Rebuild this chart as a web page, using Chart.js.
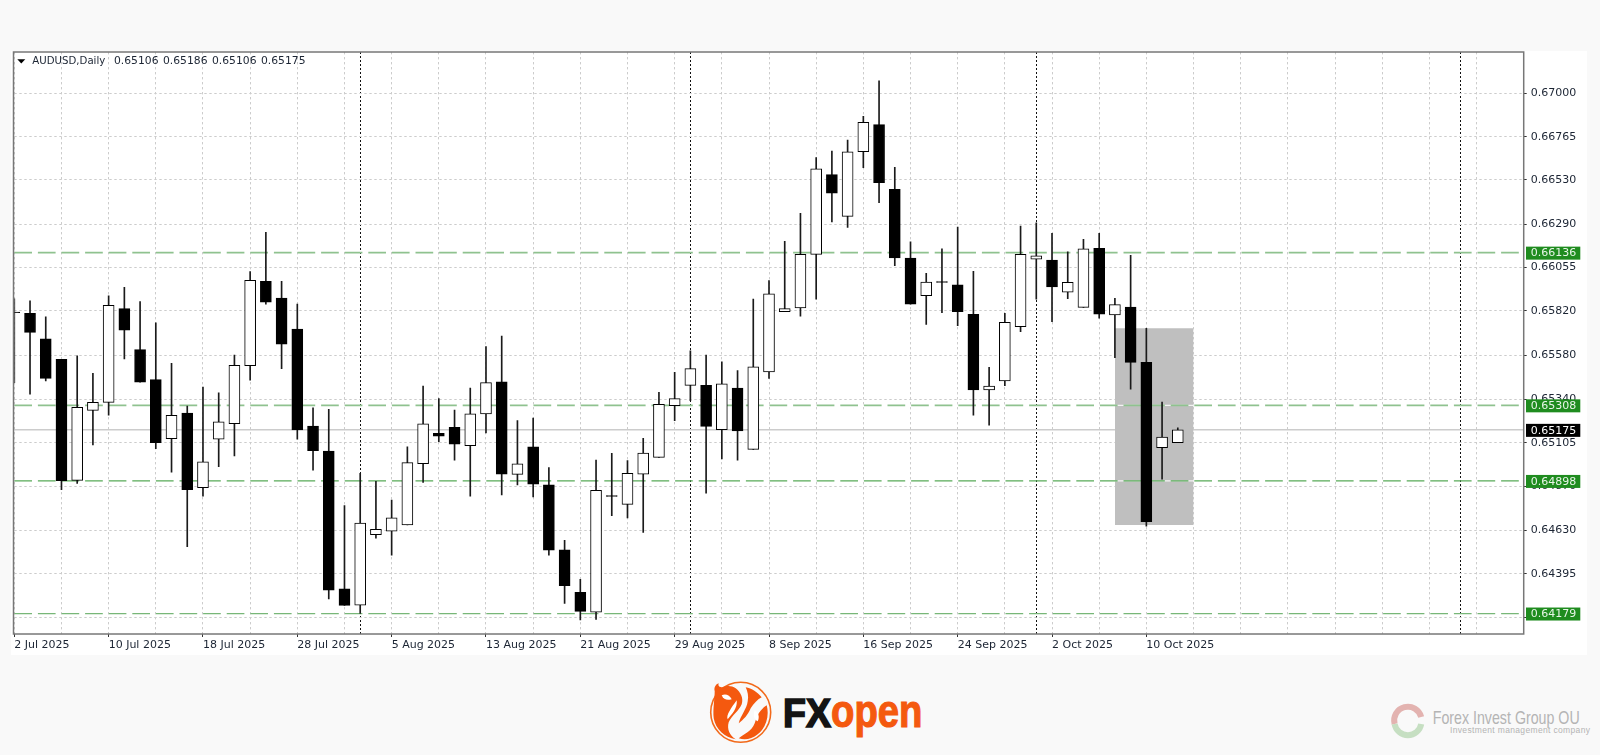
<!DOCTYPE html>
<html>
<head>
<meta charset="utf-8">
<title>AUDUSD Daily</title>
<style>
  html, body { margin: 0; padding: 0; background: #f9f9f9; }
  #backdrop, #chart { position: absolute; left: 0; top: 0; }
</style>
<script src="https://cdn.jsdelivr.net/npm/chart.js@4"></script>
</head>
<body>
<svg id="backdrop" width="1600" height="755" xmlns="http://www.w3.org/2000/svg">
  <rect x="11" y="51" width="1576" height="604" fill="#ffffff"/>
  <!-- FXopen logo -->
  <circle cx="740.7" cy="712.3" r="30" fill="none" stroke="#f26a1b" stroke-width="1.6"/>
  <g transform="translate(707.7,679.3)" fill="#f4590f">
    <path d="M7 12 C6 8 8 5 11 4 C10 7 12 8 15 8 C19 6 24 6 28 9 C33 13 36 19 34 25 C31 32 24 36 21 43 C19 50 22 56 28 60 C17 58 8 50 6 39 C5 30 7 20 7 12 Z"/>
    <path d="M59 26 C62 37 58 49 50 55 C44 60 37 61 31 59 C36 55 44 52 47 44 C49 37 52 30 59 26 Z"/>
    <path d="M38 8 C44 9 50 13 54 18 C50 20 46 24 43 29 C40 36 36 40 31 44 C33 36 39 30 40 22 C41 17 40 12 38 8 Z"/>
    <g fill="#ffffff">
      <path d="M14 16 C18 14 22 16 24 20 C20 21 16 21 14 16 Z"/>
      <path d="M29 21 C30 29 24 35 20 40 C18 36 24 28 29 21 Z"/>
      <path d="M47 31 C51 33 52 38 50 42 C47 41 45 36 47 31 Z"/>
    </g>
  </g>
  <text x="783" y="727" font-family="Liberation Sans" font-weight="bold" font-size="40" fill="#141414" stroke="#141414" stroke-width="1.6" textLength="48" lengthAdjust="spacingAndGlyphs">FX</text>
  <text x="831" y="727" font-family="Liberation Sans" font-weight="bold" font-size="47" fill="#f4590f" stroke="#f4590f" stroke-width="1.2" textLength="91.5" lengthAdjust="spacingAndGlyphs">open</text>
  <!-- Forex Invest Group logo -->
  <path d="M1394.6 724 A13.5 13.5 0 0 1 1421.2 717" fill="none" stroke="#e3b3b0" stroke-width="6"/>
  <path d="M1421.2 724 A13.5 13.5 0 0 1 1394.6 724" fill="none" stroke="#c6dfc2" stroke-width="6"/>
  <text x="1432.7" y="724" font-family="Liberation Sans" font-size="19" fill="#b4b4b4" textLength="147" lengthAdjust="spacingAndGlyphs">Forex Invest Group OU</text>
  <text x="1450" y="733" font-family="Liberation Sans" font-size="8.5" fill="#b4b4b4" textLength="140" lengthAdjust="spacing">Investment management company</text>
</svg>
<canvas id="chart" width="1600" height="755"></canvas>

<script>
// bar dates, one per candle
const dates = [
  '2 Jul 2025','3 Jul 2025','4 Jul 2025','7 Jul 2025','8 Jul 2025','9 Jul 2025','10 Jul 2025','11 Jul 2025','14 Jul 2025','15 Jul 2025',
  '16 Jul 2025','17 Jul 2025','18 Jul 2025','21 Jul 2025','22 Jul 2025','23 Jul 2025','24 Jul 2025','25 Jul 2025','28 Jul 2025','29 Jul 2025',
  '30 Jul 2025','31 Jul 2025','1 Aug 2025','4 Aug 2025','5 Aug 2025','6 Aug 2025','7 Aug 2025','8 Aug 2025','11 Aug 2025','12 Aug 2025',
  '13 Aug 2025','14 Aug 2025','15 Aug 2025','18 Aug 2025','19 Aug 2025','20 Aug 2025','21 Aug 2025','22 Aug 2025','25 Aug 2025','26 Aug 2025',
  '27 Aug 2025','28 Aug 2025','29 Aug 2025','1 Sep 2025','2 Sep 2025','3 Sep 2025','4 Sep 2025','5 Sep 2025','8 Sep 2025','9 Sep 2025',
  '10 Sep 2025','11 Sep 2025','12 Sep 2025','15 Sep 2025','16 Sep 2025','17 Sep 2025','18 Sep 2025','19 Sep 2025','22 Sep 2025','23 Sep 2025',
  '24 Sep 2025','25 Sep 2025','26 Sep 2025','29 Sep 2025','30 Sep 2025','1 Oct 2025','2 Oct 2025','3 Oct 2025','6 Oct 2025','7 Oct 2025',
  '8 Oct 2025','9 Oct 2025','10 Oct 2025','13 Oct 2025','14 Oct 2025'
];

const opens = [
  0.65814,0.65807,0.65668,0.65557,0.64901,0.65281,0.65324,0.65832,0.65610,0.65447,
  0.65127,0.65266,0.64861,0.65124,0.65208,0.65523,0.65980,0.65890,0.65722,0.65196,
  0.65060,0.64313,0.64225,0.64606,0.64626,0.64659,0.64991,0.65156,0.65189,0.65089,
  0.65262,0.65436,0.64934,0.65083,0.64877,0.64525,0.64294,0.64187,0.64818,0.64771,
  0.64935,0.65026,0.65306,0.65416,0.65416,0.65176,0.65402,0.65069,0.65489,0.65816,
  0.65836,0.66127,0.66559,0.66333,0.66683,0.66830,0.66479,0.66107,0.65902,0.65979,
  0.65962,0.65802,0.65391,0.65440,0.65734,0.66101,0.66096,0.65922,0.65839,0.66159,
  0.65798,0.65841,0.65541,0.65078,0.65106
];
const highs = [
  0.65886,0.65875,0.65788,0.65557,0.65577,0.65482,0.65902,0.65948,0.65870,0.65756,
  0.65536,0.65304,0.65407,0.65376,0.65581,0.66033,0.66246,0.65980,0.65857,0.65295,
  0.65286,0.64764,0.64939,0.64896,0.64794,0.65083,0.65413,0.65344,0.65282,0.65402,
  0.65626,0.65684,0.65225,0.65239,0.64970,0.64576,0.64364,0.65011,0.65048,0.65008,
  0.65129,0.65378,0.65487,0.65604,0.65581,0.65544,0.65496,0.65884,0.65984,0.66197,
  0.66349,0.66651,0.66687,0.66747,0.66875,0.67067,0.66599,0.66194,0.66024,0.66156,
  0.66275,0.66035,0.65514,0.65807,0.66280,0.66298,0.66241,0.66141,0.66208,0.66241,
  0.65888,0.66122,0.65726,0.65326,0.65186
];
const lows = [
  0.65431,0.65368,0.65441,0.64850,0.64885,0.65093,0.65254,0.65559,0.65434,0.65073,
  0.64946,0.64541,0.64816,0.64975,0.65033,0.65444,0.65856,0.65507,0.65125,0.64957,
  0.64258,0.64223,0.64180,0.64588,0.64495,0.64659,0.64890,0.65111,0.65011,0.64816,
  0.65159,0.64822,0.64876,0.64812,0.64495,0.64234,0.64144,0.64147,0.64709,0.64697,
  0.64619,0.65026,0.65225,0.65333,0.64831,0.65017,0.65011,0.65069,0.65454,0.65816,
  0.65792,0.65883,0.66302,0.66273,0.66597,0.66407,0.66065,0.65857,0.65747,0.65810,
  0.65740,0.65255,0.65201,0.65414,0.65707,0.65884,0.65761,0.65886,0.65839,0.65780,
  0.65566,0.65396,0.64653,0.64908,0.65106
];
const closes = [
  0.65810,0.65704,0.65454,0.64899,0.65297,0.65324,0.65850,0.65716,0.65434,0.65105,
  0.65254,0.64850,0.65002,0.65219,0.65525,0.65986,0.65868,0.65640,0.65174,0.65062,
  0.64306,0.64223,0.64670,0.64636,0.64698,0.64997,0.65208,0.65141,0.65098,0.65262,
  0.65431,0.64935,0.64991,0.64881,0.64523,0.64330,0.64191,0.64847,0.64814,0.64939,
  0.65049,0.65313,0.65344,0.65507,0.65194,0.65425,0.65169,0.65517,0.65913,0.65832,
  0.66127,0.66591,0.66458,0.66683,0.66843,0.66515,0.66108,0.65857,0.65977,0.65975,
  0.65816,0.65391,0.65413,0.65758,0.66127,0.66119,0.65950,0.65975,0.66157,0.65802,
  0.65854,0.65541,0.64677,0.65136,0.65175
];

const priceTicks = [0.67, 0.66765, 0.6653, 0.6629, 0.66055, 0.6582, 0.6558, 0.6534, 0.65105, 0.6487, 0.6463, 0.64395, 0.6416];
const levels = [0.66136, 0.65308, 0.64898, 0.64179];
const lastPrice = 0.65175;
const zoneTop = 0.65726;
const zoneBottom = 0.64659;

const symbolTitle = 'AUDUSD,Daily';
const headerPrices = ['0.65106', '0.65186', '0.65106', '0.65175'];

// empty slots to the right of the last candle, the platform keeps drawing its grid there
const futureSlots = 22;
const monthStarts = [22, 43, 65, 92];
const zoneFrom = 70;
const zoneTo = 75;

const yMin = 0.64068;
const yMax = 0.67224;

const levelColors = ['#8fc28f', '#8fc28f', '#58aa58', '#78b778'];
const levelWidths = [1.9, 1.7, 1.2, 1.3];
const font = 'DejaVu Sans';
const textColor = '#1b2433';

let labels = dates.slice();
for (let i = 0; i < futureSlots; i++) {
  labels.push('slot ' + (i + 1));
}

function flatLine(value) {
  return labels.map(() => value);
}

function zoneLine(value) {
  return labels.map((l, i) => (i >= zoneFrom && i <= zoneTo ? value : null));
}

let datasets = [
  {
    type: 'bar',
    data: opens.map((o, i) => [o, closes[i]]),
    backgroundColor: opens.map((o, i) => (closes[i] > o ? '#ffffff' : '#000000')),
    borderColor: '#000000',
    borderWidth: 1,
    borderSkipped: false,
    barThickness: 11,
    grouped: false,
    order: 1
  },
  {
    type: 'bar',
    data: lows.map((l, i) => [l, highs[i]]),
    backgroundColor: '#1a1a1a',
    borderWidth: 0,
    barThickness: 1,
    grouped: false,
    order: 2
  },
  {
    type: 'line',
    data: flatLine(lastPrice),
    borderColor: '#cccccc',
    borderWidth: 1.5,
    pointRadius: 0,
    order: 7
  },
  // grey zone, filled between its two edges
  {
    type: 'line',
    data: zoneLine(zoneTop),
    borderWidth: 0,
    pointRadius: 0,
    fill: '+1',
    backgroundColor: '#bfbfbf',
    order: 6
  },
  {
    type: 'line',
    data: zoneLine(zoneBottom),
    borderWidth: 0,
    pointRadius: 0,
    order: 6
  }
];

levels.forEach((level, i) => {
  datasets.push({
    type: 'line',
    data: flatLine(level),
    borderColor: levelColors[i],
    borderWidth: levelWidths[i],
    borderDash: [17.7, 5.9],
    pointRadius: 0,
    order: 4
  });
  // the gaps of the dashes show white inside the zone
  if (level < zoneTop && level > zoneBottom) {
    datasets.push({
      type: 'line',
      data: zoneLine(level),
      borderColor: '#f4f4f4',
      borderWidth: 1.2,
      pointRadius: 0,
      order: 5
    });
  }
});

const platformDecor = {
  id: 'platformDecor',
  afterDraw(chart) {
    const ctx = chart.ctx;
    const area = chart.chartArea;
    const y = chart.scales.y;

    ctx.save();
    // frame
    ctx.strokeStyle = '#777777';
    ctx.lineWidth = 1.5;
    ctx.strokeRect(area.left - 0.8, area.top, area.right - area.left + 0.8, area.bottom - area.top);

    // header
    ctx.fillStyle = '#000000';
    ctx.beginPath();
    ctx.moveTo(17.3, 59.3);
    ctx.lineTo(25.3, 59.3);
    ctx.lineTo(21.3, 63.5);
    ctx.closePath();
    ctx.fill();

    ctx.font = '11px "' + font + '"';
    ctx.textBaseline = 'middle';
    ctx.textAlign = 'left';
    ctx.fillStyle = textColor;
    ctx.fillText(symbolTitle, 32.3, 61, 73);
    headerPrices.forEach((p, i) => {
      ctx.fillText(p, 114 + i * 49, 61, 44.5);
    });

    // price tags on the axis
    const drawTag = (value, fill, color) => {
      const py = y.getPixelForValue(value);
      ctx.fillStyle = fill;
      ctx.fillRect(area.right + 2.3, py - 6, 54.3, 13);
      ctx.fillStyle = color;
      ctx.fillText(value.toFixed(5), area.right + 7, py + 0.8);
    };
    levels.forEach((level) => drawTag(level, '#1f8c1f', '#e8f5e8'));
    drawTag(lastPrice, '#000000', '#ffffff');
    ctx.restore();
  }
};

let myChart = new Chart(document.querySelector('#chart').getContext('2d'), {
  data: { labels: labels, datasets: datasets },
  plugins: [platformDecor],
  options: {
    responsive: false,
    animation: false,
    events: [],
    layout: { padding: { left: 14.3, top: 52, right: 0, bottom: 0 } },
    plugins: {
      legend: { display: false },
      tooltip: { enabled: false },
      title: { display: false }
    },
    elements: { line: { tension: 0 } },
    scales: {
      x: {
        type: 'category',
        offset: false,
        afterBuildTicks(axis) {
          axis.ticks = axis.ticks.filter((t) => t.value % 3 === 0 || monthStarts.includes(t.value));
        },
        afterFit(axis) {
          axis.height = 121;
          axis.paddingLeft = 0;
          axis.paddingRight = 0;
        },
        grid: {
          offset: false,
          color: (c) => (c.tick && monthStarts.includes(c.tick.value) ? '#111111' : '#cccccc'),
          lineWidth: 1,
          tickLength: 3,
          tickColor: (c) => (c.tick && c.tick.value % 6 === 0 && c.tick.value < dates.length ? '#333333' : 'rgba(0,0,0,0)')
        },
        border: {
          display: false,
          dash: (c) => (c.tick && monthStarts.includes(c.tick.value) ? [2, 2] : [2.4, 2.6])
        },
        ticks: {
          autoSkip: false,
          maxRotation: 0,
          minRotation: 0,
          align: 'start',
          padding: 2,
          color: textColor,
          font: { family: font, size: 11 },
          callback(value) {
            return value % 6 === 0 && value < dates.length ? dates[value] : '';
          }
        }
      },
      y: {
        type: 'linear',
        position: 'right',
        min: yMin,
        max: yMax,
        afterBuildTicks(axis) {
          axis.ticks = priceTicks.map((v) => ({ value: v }));
        },
        afterFit(axis) {
          axis.width = 76.3;
          axis.paddingTop = 0;
          axis.paddingBottom = 0;
        },
        grid: {
          color: '#cccccc',
          lineWidth: 1,
          tickLength: 3,
          tickColor: '#333333'
        },
        border: { display: false, dash: [2.4, 2.6] },
        ticks: {
          autoSkip: false,
          padding: 4,
          color: textColor,
          font: { family: font, size: 11 },
          callback(value) {
            return value.toFixed(5);
          }
        }
      }
    }
  }
});
</script>
</body>
</html>
